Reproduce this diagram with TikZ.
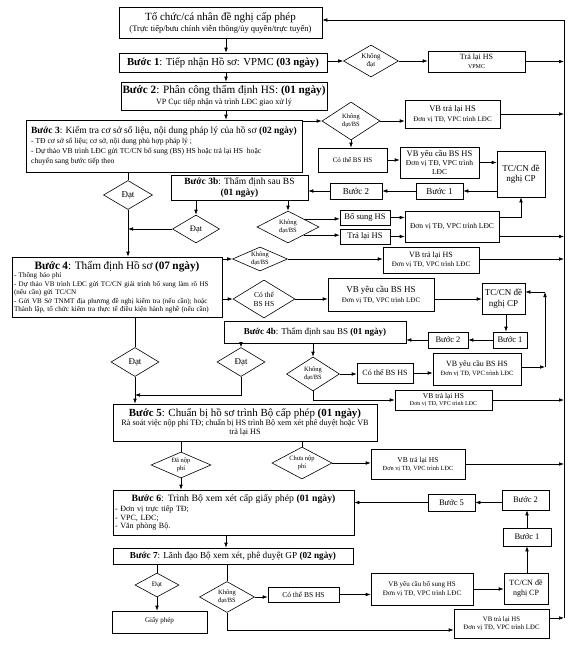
\documentclass[tikz,border=0pt]{standalone}
\usepackage{fontspec}
\setmainfont{Liberation Serif}
\usetikzlibrary{shapes.geometric,arrows.meta,calc}
\newcommand\fs[2]{\fontsize{#1}{#2}\selectfont}
\newcommand\bx[7][]{\node[box,minimum width={#5-#3},minimum height={#6-#4},#1] (#2) at ({(#3+#5)/2},{(#4+#6)/2}) {#7};}
\newcommand\dm[7][]{\node[dia,minimum width={#5},minimum height={#6},#1] (#2) at (#3,#4) {#7};}
\begin{document}
\begin{tikzpicture}[x=1pt,y=-1pt,line width=0.6pt,
  box/.style={draw,line width=0.6pt,inner sep=1pt,align=center,font=\fs{8}{9.5}},
  dia/.style={draw,diamond,aspect=2,inner sep=0pt,line width=0.6pt,align=center,font=\fs{6.5}{7.5}},
  arr/.style={-{Latex[length=5pt,width=3.6pt]}}]
\fill[white] (0,0) rectangle (576,647);
\useasboundingbox (0,0) rectangle (576,647);
% coordinates
\coordinate (R0) at (564,20);
\coordinate (Rend) at (564,618);
\coordinate (cx) at (226,0);
\coordinate (c521) at (521,0);
\coordinate (c506) at (506,0);
\coordinate (k1) at (545,367);
\coordinate (k2) at (545,292);
\coordinate (y395) at (0,395);
\coordinate (y630) at (0,630);
% nodes
\bx[font=\fs{8.5}{11}]{top}{119}{7}{322}{38}{{\fs{11}{12}Tổ chức/cá nhân đề nghị cấp phép}\\{\fs{8.5}{9}(Trực tiếp/bưu chính viễn thông/ủy quyền/trực tuyến)}}
\bx[font=\fs{10.7}{12}]{s1}{119}{53}{327}{72}{\textbf{Bước 1}: Tiếp nhận Hồ sơ: VPMC \textbf{(03 ngày)}}
\dm[font=\fs{7}{8}]{d1}{371}{61}{55}{32}{Không\\đạt}
\bx[font=\fs{6}{8.5}]{tr1}{428}{51}{525}{72}{{\fs{8}{8.5}Trả lại HS}\\{\fs{6}{7}VPMC}}
\bx[font=\fs{8}{11}]{s2}{121}{82}{327}{110}{{\fs{11.2}{12}\textbf{Bước 2}: Phân công thẩm định HS: \textbf{(01 ngày)}}\\{\fs{8}{9}VP Cục tiếp nhận và trình LĐC giao xử lý}}
\bx[align=left,font=\fs{8}{10}]{s3}{26}{120}{302}{172}{{\fs{9.5}{10}\textbf{Bước 3}: Kiểm tra cơ sở số liệu, nội dung pháp lý của hồ sơ \textbf{(02 ngày)}}\\{\fs{7.6}{8.5}- TĐ cơ sở số liệu; cơ sở, nội dung phù hợp pháp lý ;}\\{\fs{7.6}{8.5}- Dự thảo VB trình LĐC gửi TC/CN bổ sung (BS) HS hoặc trả lại HS\ \ hoặc}\\{\fs{7.6}{8.5}chuyển sang bước tiếp theo}}
\dm{d3}{351}{121}{58}{38}{Không\\đạt/BS}
\bx[font=\fs{7}{10}]{vb3}{405}{100}{500}{128}{{\fs{8.5}{9.5}VB trả lại HS}\\{\fs{7}{8}Đơn vị TĐ, VPC trình LĐC}}
\bx[font=\fs{7}{8}]{cbs3}{318}{148}{387}{172}{Có thể BS HS}
\bx[font=\fs{7.5}{9}]{vbyc3}{400}{147}{479}{178}{{\fs{8.5}{9}VB yêu cầu BS HS}\\{\fs{7.5}{8.5}Đơn vị TĐ, VPC trình}\\{\fs{7.5}{8.5}LĐC}}
\bx[font=\fs{9}{10.5}]{tc3}{497}{151}{545}{197}{TC/CN đề\\nghị CP}
\bx[font=\fs{9}{10}]{b13}{416}{183}{463}{199}{Bước 1}
\bx[font=\fs{9}{10}]{b23}{330}{183}{382}{199}{Bước 2}
\bx[font=\fs{9.5}{10.5}]{s3b}{171}{175}{308}{200}{\textbf{Bước 3b}: Thẩm định sau BS\\\textbf{(01 ngày)}}
\dm[font=\fs{9}{10}]{dd3}{128}{195}{49}{29}{Đạt}
\dm[font=\fs{8.5}{10}]{d3bok}{196}{229}{47}{28}{Đạt}
\dm{d3bno}{288}{227}{62}{32}{Không\\đạt/BS}
\bx[font=\fs{8.5}{10}]{bs3b}{340}{210}{390}{225}{Bổ sung HS}
\bx[font=\fs{8.5}{10}]{tl3b}{340}{229}{390}{244}{Trả lại HS}
\bx[font=\fs{7.5}{9}]{vb3b}{405}{211}{499}{242}{Đơn vị TĐ, VPC trình LĐC}
\bx[text width=206pt,align=left,font=\fs{7.1}{8.5}]{s4}{12}{257}{222}{317}{\makebox[\linewidth][c]{\fs{11.3}{12}\textbf{Bước 4}: Thẩm định Hồ sơ \textbf{(07 ngày)}}\\[0pt]- Thông báo phí\\- Dự thảo VB trình LĐC gửi TC/CN giải trình bổ sung làm rõ HS\\(nếu cần) gửi TC/CN\\- Gửi VB Sở TNMT địa phương đề nghị kiểm tra (nếu cần); hoặc\\Thành lập, tổ chức kiểm tra thực tế điều kiện hành nghề (nếu cần)}
\dm{d4no}{260}{259}{55}{24}{Không\\đạt/BS}
\bx[font=\fs{7}{9}]{vb4}{383}{247}{479}{273}{{\fs{8}{9}VB trả lại HS}\\{\fs{7}{8}Đơn vị TĐ, VPC trình LĐC}}
\dm[font=\fs{7.5}{9}]{d4cbs}{264}{299}{62}{38}{Có thể\\BS HS}
\bx[font=\fs{7}{10}]{vbyc4}{328}{278}{434}{311}{{\fs{9}{10}VB yêu cầu BS HS}\\{\fs{7}{8}Đơn vị TĐ, VPC trình LĐC}}
\bx[font=\fs{9}{10.5}]{tc4}{482}{283}{525}{314}{TC/CN đề\\nghị CP}
\bx[font=\fs{8.5}{10}]{b14}{493}{332}{527}{348}{Bước 1}
\bx[font=\fs{8.5}{10}]{b24}{428}{332}{468}{348}{Bước 2}
\bx[font=\fs{9}{10}]{s4b}{224}{321}{406}{343}{\textbf{Bước 4b}: Thẩm định sau BS \textbf{(01 ngày)}}
\dm[font=\fs{9}{10}]{d4ok}{135}{362}{48}{29}{Đạt}
\dm[font=\fs{9}{10}]{d4bok}{241}{362}{48}{29}{Đạt}
\dm{d4bno}{313}{374}{53}{34}{Không\\đạt/BS}
\bx[font=\fs{8}{9}]{cbs4b}{357}{363}{413}{383}{Có thể BS HS}
\bx[font=\fs{6.5}{9}]{vbyc4b}{433}{353}{521}{385}{{\fs{8}{9}VB yêu cầu BS HS}\\{\fs{6.5}{7.5}Đơn vị TĐ, VPC trình LĐC}}
\bx[font=\fs{6}{7.5}]{vb4b}{395}{390}{492}{410}{{\fs{7.5}{8}VB trả lại HS}\\{\fs{6}{7}Đơn vị TĐ, VPC trình LĐC}}
\bx[font=\fs{8.3}{9}]{s5}{113}{404}{377}{441}{{\fs{10.9}{12}\textbf{Bước 5}: Chuẩn bị hồ sơ trình Bộ cấp phép \textbf{(01 ngày)}}\\{\fs{8.2}{9}Rà soát việc nộp phí TĐ; chuẩn bị HS trình Bộ xem xét phê duyệt hoặc VB}\\{\fs{8.2}{9}trả lại HS}}
\dm{d5paid}{181}{465}{60}{26}{Đã nộp\\phí}
\dm{d5unpaid}{302}{463}{60}{32}{Chưa nộp\\phí}
\bx[font=\fs{6.3}{8}]{vb5}{371}{449}{465}{479}{{\fs{7.5}{8}VB trả lại HS}\\{\fs{6.3}{7}Đơn vị TĐ, VPC trình LĐC}}
\bx[text width=237pt,align=left,font=\fs{8}{8.8}]{s6}{113}{490}{354}{535}{\makebox[\linewidth][c]{\fs{9.7}{11}\textbf{Bước 6}: Trình Bộ xem xét cấp giấy phép \textbf{(01 ngày)}}\\[1pt]- Đơn vị trực tiếp TĐ;\\- VPC, LĐC;\\- Văn phòng Bộ.}
\bx[font=\fs{8.5}{10}]{b55}{428}{494}{475}{511}{Bước 5}
\bx[font=\fs{8.5}{10}]{b25}{502}{490}{549}{510}{Bước 2}
\bx[font=\fs{8.5}{10}]{b15}{503}{528}{551}{546}{Bước 1}
\bx[font=\fs{8}{9.5}]{tc7}{504}{573}{548}{604}{TC/CN đề\\nghị CP}
\bx[font=\fs{9.2}{10}]{s7}{113}{548}{353}{564}{\textbf{Bước 7}: Lãnh đạo Bộ xem xét, phê duyệt GP \textbf{(02 ngày)}}
\dm[font=\fs{7}{8}]{d7ok}{157}{585}{44}{24}{Đạt}
\bx[font=\fs{7}{8}]{gp}{112}{611}{207}{633}{\raisebox{5pt}{Giấy phép}}
\dm[font=\fs{6.5}{7.5}]{d7no}{227}{597}{55}{31}{Không\\đạt/BS}
\bx[font=\fs{7.5}{9}]{cbs7}{268}{587}{339}{602}{Có thể BS HS}
\bx[font=\fs{7}{8.5}]{vbyc7}{371}{573}{473}{605}{VB yêu cầu bổ sung HS\\Đơn vị TĐ, VPC trình LĐC}
\bx[font=\fs{6.8}{8.5}]{vb7}{454}{609}{549}{638}{VB trả lại HS\\Đơn vị TĐ, VPC trình LĐC}
% connectors
\draw[arr] (top.south -| cx) -- (s1.north -| cx);
\draw[arr] (s1.south -| cx) -- (s2.north -| cx);
\draw[arr] (s2.south -| cx) -- (s3.north -| cx);
\draw[arr] (s1.east |- d1.west) -- (d1.west);
\draw[arr] (d1.east) -- (tr1.west |- d1.east);
\draw[arr] (tr1.east) -- (tr1.east -| R0);
\draw[arr] (Rend) -- (R0) -- (top.east |- R0);
\draw[arr] (s3.east |- d3.west) -- (d3.west);
\draw[arr] (d3.east) -- (vb3.west |- d3.east);
\draw[arr] (vb3.east) -- (vb3.east -| R0);
\draw[arr] (d3.south) -- (cbs3.north -| d3.south);
\draw[arr] (cbs3.east) -- (vbyc3.west |- cbs3.east);
\draw[arr] (vbyc3.east) -- (tc3.west |- vbyc3.east);
\draw[arr] (tc3.west |- b13.east) -- (b13.east);
\draw[arr] (b13.west) -- (b23.east);
\draw[arr] (b23.west) -- (s3b.east |- b23.west);
\draw (s3.south -| dd3.north) -- (dd3.north);
\draw[arr] (dd3.south) -- (s4.north -| dd3.south);
\draw[arr] (s3b.south -| d3bok.north) -- (d3bok.north);
\draw[arr] (s3b.south -| d3bno.north) -- (d3bno.north);
\draw[arr] (d3bok.west) -- (d3bok.west -| dd3.south);
\draw[arr] (d3bno.north east) -- (bs3b.west |- d3bno.north east);
\draw[arr] (d3bno.south east) -- (tl3b.west |- d3bno.south east);
\draw[arr] (bs3b.east) -- (vb3b.west |- bs3b.east);
\draw[arr] (tl3b.east) -- (vb3b.west |- tl3b.east);
\draw[arr] (vb3b.east |- bs3b.east) -| (tc3.south -| c521);
\draw[arr] (vb3b.east |- tl3b.east) -- (tl3b.east -| R0);
\draw[arr] (s4.east |- d4no.west) -- (d4no.west);
\draw[arr] (d4no.east) -- (vb4.west |- d4no.east);
\draw[arr] (vb4.east |- d4no.east) -- (d4no.east -| R0);
\draw[arr] (s4.east |- d4cbs.west) -- (d4cbs.west);
\draw[arr] (d4cbs.east) -- (vbyc4.west |- d4cbs.east);
\draw[arr] (vbyc4.east |- d4cbs.east) -- (tc4.west |- d4cbs.east);
\draw[arr] (tc4.south -| c506) -- (b14.north -| c506);
\draw[arr] (b14.west) -- (b24.east);
\draw[arr] (b24.west) -- (s4b.east |- b24.west);
\draw[arr] (vbyc4b.east |- k1) -- (k1);
\draw[arr] (k1) -- (k2);
\draw[arr] (k2) -- (tc4.east |- k2);
\draw (s4.south -| d4ok.north) -- (d4ok.north);
\draw[arr] (d4ok.south) -- (s5.north -| d4ok.south);
\draw[arr] (s4b.south -| d4bok.north) -- (d4bok.north);
\draw[arr] (d4bok.south) |- (y395 -| d4ok.south);
\draw[arr] (s4b.south -| d4bno.north) -- (d4bno.north);
\draw[arr] (d4bno.east) -- (cbs4b.west |- d4bno.east);
\draw[arr] (cbs4b.east) -- (vbyc4b.west |- cbs4b.east);
\draw[arr] (d4bno.south) |- (vb4b.west);
\draw[arr] (vb4b.east) -- (vb4b.east -| R0);
\draw (s5.south -| d5paid.north) -- (d5paid.north);
\draw[arr] (d5paid.south) -- (s6.north -| d5paid.south);
\draw (s5.south -| d5unpaid.north) -- (d5unpaid.north);
\draw[arr] (d5unpaid.east) -- (vb5.west |- d5unpaid.east);
\draw[arr] (vb5.east) -- (vb5.east -| R0);
\draw[arr] (b55.west) -- (s6.east |- b55.west);
\draw[arr] (b25.west |- b55.east) -- (b55.east);
\draw[arr] (b15.north) -- (b25.south -| b15.north);
\draw[arr] (tc7.north -| b15.south) -- (b15.south);
\draw[arr] (s6.south -| cx) -- (s7.north -| cx);
\draw (s7.south -| d7ok.north) -- (d7ok.north);
\draw[arr] (d7ok.south) -- (gp.north -| d7ok.south);
\draw (s7.south -| d7no.north) -- (d7no.north);
\draw[arr] (d7no.east) -- (cbs7.west |- d7no.east);
\draw[arr] (cbs7.east) -- (vbyc7.west |- cbs7.east);
\draw[arr] (vbyc7.east) -- (tc7.west |- vbyc7.east);
\draw[arr] (d7no.south) |- (vb7.west |- y630);
\draw[arr] (vb7.east |- Rend) -- (Rend);
\end{tikzpicture}
\end{document}
